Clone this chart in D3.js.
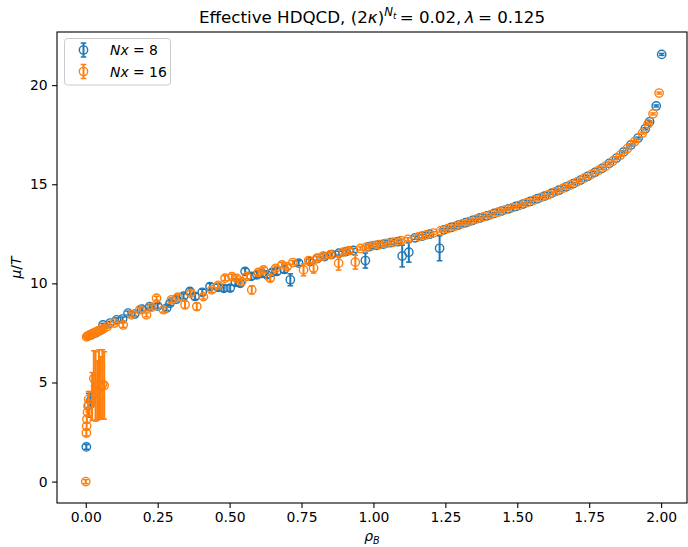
<!DOCTYPE html>
<html>
<head>
<meta charset="utf-8">
<script src="https://cdn.jsdelivr.net/npm/d3@7"></script>
<style>
  body { margin: 0; background: #fff; }
  svg { display: block; font-family: 'DejaVu Sans', sans-serif; }
</style>
</head>
<body>
<div id="chart"></div>
<script>
// Nx = 8 (blue)
const rho8 = [0.002, 0.010, 0.018, 0.020, 0.035, 0.050, 0.060, 0.085, 0.107, 0.128, 0.147, 0.170, 0.195, 0.223, 0.250, 0.281, 0.293, 0.315, 0.340, 0.362, 0.380, 0.405, 0.432, 0.460, 0.480, 0.502, 0.520, 0.537, 0.554, 0.575, 0.595, 0.612, 0.630, 0.648, 0.664, 0.690, 0.711, 0.740, 0.780, 0.805, 0.830, 0.855, 0.880, 0.905, 0.930, 0.972, 0.985, 1.010, 1.035, 1.060, 1.085, 1.100, 1.123, 1.145, 1.170, 1.195, 1.230, 1.245, 1.270, 1.295, 1.320, 1.345, 1.370, 1.395, 1.420, 1.445, 1.470, 1.495, 1.520, 1.545, 1.570, 1.595, 1.620, 1.645, 1.670, 1.695, 1.720, 1.745, 1.770, 1.795, 1.820, 1.845, 1.870, 1.895, 1.920, 1.945, 1.960, 1.983, 2.002]
const mu8 = [1.75, 3.85, 4.10, 7.40, 7.50, 7.62, 7.90, 8.00, 8.16, 8.20, 8.50, 8.45, 8.70, 8.83, 8.85, 8.75, 9.00, 9.20, 9.35, 9.59, 9.34, 9.55, 9.84, 9.80, 9.75, 9.76, 10.05, 10.00, 10.60, 10.35, 10.43, 10.50, 10.43, 10.55, 10.60, 10.70, 10.18, 11.02, 11.10, 11.25, 11.35, 11.45, 11.52, 11.60, 11.66, 11.15, 11.85, 11.92, 11.98, 12.05, 12.10, 11.38, 11.57, 12.30, 12.38, 12.48, 11.77, 12.70, 12.82, 12.94, 13.06, 13.18, 13.30, 13.41, 13.53, 13.65, 13.76, 13.88, 14.00, 14.13, 14.27, 14.40, 14.55, 14.70, 14.87, 15.03, 15.21, 15.40, 15.60, 15.80, 16.05, 16.32, 16.63, 16.98, 17.33, 17.80, 18.15, 18.95, 21.55]
const err8 = [0.12, 0.60, 0.35, 0.06, 0.06, 0.06, 0.08, 0.08, 0.10, 0.10, 0.10, 0.10, 0.10, 0.10, 0.12, 0.12, 0.12, 0.12, 0.12, 0.15, 0.15, 0.15, 0.15, 0.15, 0.15, 0.15, 0.15, 0.15, 0.15, 0.15, 0.15, 0.15, 0.15, 0.15, 0.15, 0.15, 0.30, 0.12, 0.12, 0.10, 0.10, 0.10, 0.10, 0.10, 0.10, 0.38, 0.08, 0.08, 0.08, 0.08, 0.08, 0.55, 0.50, 0.08, 0.08, 0.08, 0.63, 0.06, 0.06, 0.06, 0.06, 0.06, 0.06, 0.05, 0.05, 0.05, 0.05, 0.05, 0.05, 0.05, 0.05, 0.05, 0.05, 0.05, 0.05, 0.05, 0.05, 0.05, 0.05, 0.05, 0.05, 0.05, 0.05, 0.05, 0.05, 0.05, 0.05, 0.05, 0.05]

// Nx = 16 (orange)
const rho16 = [0.000, 0.002, 0.003, 0.004, 0.006, 0.008, 0.010, 0.022, 0.028, 0.034, 0.040, 0.046, 0.052, 0.058, 0.064, 0.003, 0.006, 0.009, 0.012, 0.015, 0.018, 0.021, 0.024, 0.027, 0.030, 0.034, 0.038, 0.042, 0.046, 0.050, 0.055, 0.060, 0.075, 0.100, 0.130, 0.159, 0.188, 0.211, 0.230, 0.246, 0.270, 0.298, 0.320, 0.345, 0.365, 0.386, 0.409, 0.438, 0.460, 0.484, 0.508, 0.525, 0.542, 0.560, 0.577, 0.600, 0.618, 0.641, 0.660, 0.682, 0.700, 0.720, 0.757, 0.775, 0.792, 0.804, 0.825, 0.850, 0.879, 0.895, 0.915, 0.937, 0.955, 0.975, 0.997, 1.020, 1.045, 1.070, 1.095, 1.120, 1.158, 1.183, 1.208, 1.233, 1.258, 1.283, 1.308, 1.333, 1.358, 1.383, 1.408, 1.433, 1.458, 1.483, 1.508, 1.533, 1.558, 1.583, 1.608, 1.633, 1.658, 1.683, 1.708, 1.733, 1.758, 1.783, 1.808, 1.833, 1.858, 1.883, 1.908, 1.935, 1.955, 1.972, 1.993]
const mu16 = [0.00, 2.45, 2.80, 3.15, 3.50, 3.80, 4.15, 4.30, 5.20, 4.80, 4.60, 4.90, 4.75, 4.90, 4.85, 7.30, 7.33, 7.36, 7.38, 7.40, 7.42, 7.44, 7.46, 7.48, 7.50, 7.53, 7.56, 7.58, 7.61, 7.64, 7.67, 7.70, 7.82, 8.00, 7.90, 8.41, 8.67, 8.41, 8.80, 9.25, 8.67, 9.17, 9.30, 8.92, 9.50, 8.83, 9.33, 9.67, 9.90, 10.26, 10.34, 10.25, 10.09, 10.35, 9.67, 10.55, 10.68, 10.26, 10.75, 10.93, 10.85, 11.05, 10.68, 11.15, 10.77, 11.27, 11.38, 11.45, 11.02, 11.58, 11.65, 11.07, 11.76, 11.83, 11.90, 11.96, 12.02, 12.08, 12.15, 12.22, 12.36, 12.44, 12.54, 12.65, 12.76, 12.88, 13.00, 13.12, 13.24, 13.36, 13.47, 13.59, 13.71, 13.82, 13.94, 14.07, 14.20, 14.34, 14.47, 14.63, 14.79, 14.95, 15.12, 15.31, 15.50, 15.70, 15.92, 16.18, 16.46, 16.80, 17.15, 17.58, 18.05, 18.55, 19.60]
const err16 = [0.10, 0.15, 0.15, 0.20, 0.20, 0.30, 0.40, 1.20, 1.40, 1.75, 1.50, 1.75, 1.55, 1.75, 1.70, 0.05, 0.05, 0.05, 0.05, 0.05, 0.05, 0.05, 0.05, 0.05, 0.05, 0.05, 0.05, 0.05, 0.05, 0.05, 0.05, 0.05, 0.08, 0.08, 0.12, 0.10, 0.10, 0.10, 0.10, 0.10, 0.12, 0.12, 0.12, 0.18, 0.12, 0.18, 0.12, 0.12, 0.12, 0.12, 0.12, 0.12, 0.12, 0.12, 0.20, 0.12, 0.12, 0.15, 0.12, 0.12, 0.12, 0.10, 0.30, 0.10, 0.25, 0.10, 0.10, 0.10, 0.35, 0.10, 0.10, 0.35, 0.08, 0.08, 0.08, 0.08, 0.08, 0.08, 0.08, 0.08, 0.07, 0.07, 0.07, 0.06, 0.06, 0.06, 0.06, 0.06, 0.06, 0.05, 0.05, 0.05, 0.05, 0.05, 0.05, 0.05, 0.05, 0.05, 0.05, 0.05, 0.05, 0.05, 0.05, 0.05, 0.05, 0.05, 0.05, 0.05, 0.05, 0.05, 0.05, 0.05, 0.05, 0.05, 0.05]

const xTicks = [0, 0.25, 0.5, 0.75, 1.0, 1.25, 1.5, 1.75, 2.0]
const yTicks = [0, 5, 10, 15, 20]

const width = 688, height = 547
const marginLeft = 57, marginRight = 1, marginTop = 32, marginBottom = 44

const svg = d3.select('#chart').append('svg')
    .attr('width', width)
    .attr('height', height)

// scales
const x = d3.scaleLinear().domain([-0.1, 2.09]).range([marginLeft, width - marginRight])
const y = d3.scaleLinear().domain([-1.08, 22.68]).range([height - marginBottom, marginTop])

// axes
const xAxis = d3.axisBottom(x).tickValues(xTicks).tickFormat(d3.format('.2f')).tickSize(4.9).tickPadding(4.5)
const yAxis = d3.axisLeft(y).tickValues(yTicks).tickFormat(d3.format('d')).tickSize(4.9).tickPadding(4.5)

const gx = svg.append('g')
    .attr('transform', `translate(0,${height - marginBottom})`)
    .call(xAxis)
const gy = svg.append('g')
    .attr('transform', `translate(${marginLeft},0)`)
    .call(yAxis)

for (const g of [gx, gy]) {
    g.select('.domain').remove()
    g.selectAll('.tick line').attr('stroke', '#000').attr('stroke-width', 1.1)
    g.selectAll('.tick text').attr('fill', '#000').attr('font-size', 13.9)
        .attr('font-family', "'DejaVu Sans', sans-serif")
}

// frame
svg.append('rect')
    .attr('x', marginLeft).attr('y', marginTop)
    .attr('width', width - marginRight - marginLeft)
    .attr('height', height - marginBottom - marginTop)
    .attr('fill', 'none').attr('stroke', '#000').attr('stroke-width', 1.1)

const plot = svg.append('g')

function drawSeries(rho, mu, err, color) {
    const pts = rho.map((r, i) => ({ r, m: mu[i], e: err[i] }))
    const g = plot.append('g')
    const cap = 2.8
    const bars = g.selectAll('g.bar').data(pts).join('g').attr('class', 'bar')
    bars.append('line')
        .attr('x1', d => x(d.r)).attr('x2', d => x(d.r))
        .attr('y1', d => y(d.m - d.e)).attr('y2', d => y(d.m + d.e))
        .attr('stroke', color).attr('stroke-width', 2)
    bars.append('line')
        .attr('x1', d => x(d.r) - cap).attr('x2', d => x(d.r) + cap)
        .attr('y1', d => y(d.m - d.e)).attr('y2', d => y(d.m - d.e))
        .attr('stroke', color).attr('stroke-width', 1.5)
    bars.append('line')
        .attr('x1', d => x(d.r) - cap).attr('x2', d => x(d.r) + cap)
        .attr('y1', d => y(d.m + d.e)).attr('y2', d => y(d.m + d.e))
        .attr('stroke', color).attr('stroke-width', 1.5)
    g.selectAll('circle').data(pts).join('circle')
        .attr('cx', d => x(d.r)).attr('cy', d => y(d.m))
        .attr('r', 4.17)
        .attr('fill', 'none').attr('stroke', color).attr('stroke-width', 1.4)
}

drawSeries(rho8, mu8, err8, '#1f77b4')
drawSeries(rho16, mu16, err16, '#ff7f0e')

// title
const title = svg.append('text')
    .attr('x', (marginLeft + width - marginRight) / 2).attr('y', 23)
    .attr('text-anchor', 'middle').attr('font-size', 16.7).attr('fill', '#000')
title.append('tspan').text('Effective HDQCD, (2')
title.append('tspan').attr('font-style', 'italic').text('κ')
title.append('tspan').text(')')
title.append('tspan').attr('font-style', 'italic').attr('font-size', 11.7).attr('dy', -7).text('N')
title.append('tspan').attr('font-style', 'italic').attr('font-size', 8.5).attr('dy', 3).text('t')
title.append('tspan').attr('dy', 4).text('\u2009= 0.02,\u2009')
title.append('tspan').attr('font-style', 'italic').text('λ')
title.append('tspan').text('\u2009= 0.125')

// axis labels
const xl = svg.append('text')
    .attr('x', (marginLeft + width - marginRight) / 2).attr('y', 541)
    .attr('text-anchor', 'middle').attr('font-size', 13.9).attr('fill', '#000')
xl.append('tspan').attr('font-style', 'italic').text('ρ')
xl.append('tspan').attr('font-style', 'italic').attr('font-size', 9.7).attr('dy', 3).text('B')

const yl = svg.append('text')
    .attr('transform', `translate(21,${(marginTop + height - marginBottom) / 2}) rotate(-90)`)
    .attr('text-anchor', 'middle').attr('font-size', 13.9).attr('fill', '#000')
yl.append('tspan').attr('font-style', 'italic').text('μ')
yl.append('tspan').text('/')
yl.append('tspan').attr('font-style', 'italic').text('T')

// legend
const legend = svg.append('g')
legend.append('rect')
    .attr('x', 64.5).attr('y', 38.5).attr('width', 106).attr('height', 46.5)
    .attr('rx', 3).attr('fill', '#fff').attr('fill-opacity', 0.8)
    .attr('stroke', '#ccc').attr('stroke-width', 1)
const legendItems = [
    { label: '8', color: '#1f77b4' },
    { label: '16', color: '#ff7f0e' }
]
legendItems.forEach((d, i) => {
    const cy = 50 + i * 21.5
    const cx = 83.5
    legend.append('line').attr('x1', cx).attr('x2', cx).attr('y1', cy - 7).attr('y2', cy + 7)
        .attr('stroke', d.color).attr('stroke-width', 2)
    legend.append('line').attr('x1', cx - 2.8).attr('x2', cx + 2.8).attr('y1', cy - 7).attr('y2', cy - 7)
        .attr('stroke', d.color).attr('stroke-width', 1.5)
    legend.append('line').attr('x1', cx - 2.8).attr('x2', cx + 2.8).attr('y1', cy + 7).attr('y2', cy + 7)
        .attr('stroke', d.color).attr('stroke-width', 1.5)
    legend.append('circle').attr('cx', cx).attr('cy', cy).attr('r', 4.17)
        .attr('fill', 'none').attr('stroke', d.color).attr('stroke-width', 1.4)
    const t = legend.append('text').attr('x', 110).attr('y', cy + 5)
        .attr('font-size', 13.9).attr('fill', '#000')
    t.append('tspan').attr('font-style', 'italic').text('Nx')
    t.append('tspan').text(' = ' + d.label)
})
</script>
</body>
</html>
